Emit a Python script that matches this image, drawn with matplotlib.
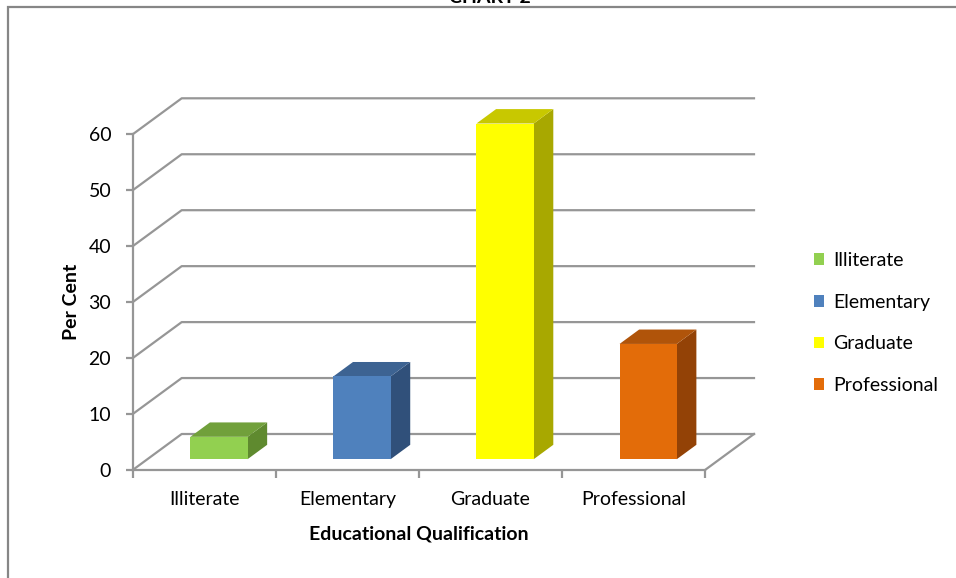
import matplotlib
matplotlib.use("Agg")
import matplotlib.pyplot as plt
from matplotlib.patches import Polygon, Rectangle, Patch

# Educational qualification of respondents (per cent)
categories = ["Illiterate", "Elementary", "Graduate", "Professional"]
values = [4.0, 14.8, 60.0, 20.6]
y_ticks = [0, 10, 20, 30, 40, 50, 60]

front_colors = ["#92D050", "#4F81BD", "#FFFF00", "#E36C09"]
top_colors = ["#71A03B", "#3D6392", "#C8C800", "#B0540A"]
side_colors = ["#5F8A2F", "#30507A", "#A8A800", "#934206"]

W, H = 956, 578
grid_color = "#969696"
plt.rcParams["font.family"] = ["Lato", "DejaVu Sans"]

fig = plt.figure(figsize=(W / 100, H / 100), dpi=100)

# front plane of the plot area in pixels
left, right, top, bottom = 132.7, 705.0, 134.3, 470.0
ax = fig.add_axes([left / W, 1 - bottom / H, (right - left) / W, (bottom - top) / H])
ax.set_xlim(0, len(categories))
ax.set_ylim(0, 60)

# depth offset of the back wall, in data units
DX = 49 / ((right - left) / len(categories))
DY = 36 / ((bottom - top) / 60)

# back wall gridlines and the side wall diagonals
for v in y_ticks:
    ax.plot([0, DX, len(categories) + DX], [v, v + DY, v + DY],
            color=grid_color, lw=1.6, clip_on=False, zorder=1)
ax.plot([len(categories), len(categories) + DX], [0, DY],
        color=grid_color, lw=1.6, clip_on=False, zorder=1)

# 3-D looking bars
bar_w = 0.4
t_front, t_back = 0.3, 0.7
d = t_back - t_front
for i, v in enumerate(values):
    x0 = i + 0.5 - bar_w / 2 + t_front * DX
    x1 = x0 + bar_w
    y0 = t_front * DY
    side = Polygon([(x1, y0), (x1, y0 + v), (x1 + d * DX, y0 + v + d * DY),
                    (x1 + d * DX, y0 + d * DY)],
                   closed=True, fc=side_colors[i], ec="none", clip_on=False, zorder=3)
    cap = Polygon([(x0, y0 + v), (x1, y0 + v), (x1 + d * DX, y0 + v + d * DY),
                   (x0 + d * DX, y0 + v + d * DY)],
                  closed=True, fc=top_colors[i], ec="none", clip_on=False, zorder=3)
    face = Rectangle((x0, y0), bar_w, v, fc=front_colors[i], ec="none",
                     clip_on=False, zorder=4)
    for p in (side, cap, face):
        ax.add_patch(p)

# axes styling
ax.set_facecolor("none")
for s in ("top", "right"):
    ax.spines[s].set_visible(False)
for s in ("left", "bottom"):
    ax.spines[s].set_color(grid_color)
    ax.spines[s].set_linewidth(1.6)
    ax.spines[s].set_zorder(2)

ax.set_yticks(y_ticks)
ax.tick_params(axis="y", length=5, width=1.6, color=grid_color, labelsize=14, pad=10.5)
ax.set_xticks(range(len(categories) + 1))
ax.set_xticklabels([])
ax.tick_params(axis="x", which="major", length=6, width=1.6, color=grid_color, direction="out")
ax.set_xticks([i + 0.5 for i in range(len(categories))], minor=True)
ax.set_xticklabels(categories, minor=True)
ax.tick_params(axis="x", which="minor", length=0, labelsize=14, pad=15)

ax.set_ylabel("Per Cent", fontsize=14, fontweight="bold", labelpad=6)
ax.set_xlabel("Educational Qualification", fontsize=14, fontweight="bold", labelpad=12.5)

# legend on the right
handles = [Patch(fc=c, ec="none") for c in front_colors]
fig.legend(handles, categories, loc="center left", bbox_to_anchor=(804 / W, 1 - 323 / H),
           frameon=False, fontsize=14, handlelength=0.55, handleheight=0.55,
           handletextpad=0.45, labelspacing=1.27, borderpad=0)

# chart frame and clipped title
fig.patches.append(Rectangle((8 / W, -0.1), 1.2, 1 - 7 / H + 0.1, transform=fig.transFigure,
                             fill=False, ec="#868686", lw=1.6))
fig.text(490 / W, 1 - 3 / H, "CHART 2", ha="center", va="baseline",
         fontsize=14, fontweight="bold")

fig.savefig("out.png", dpi=100)
